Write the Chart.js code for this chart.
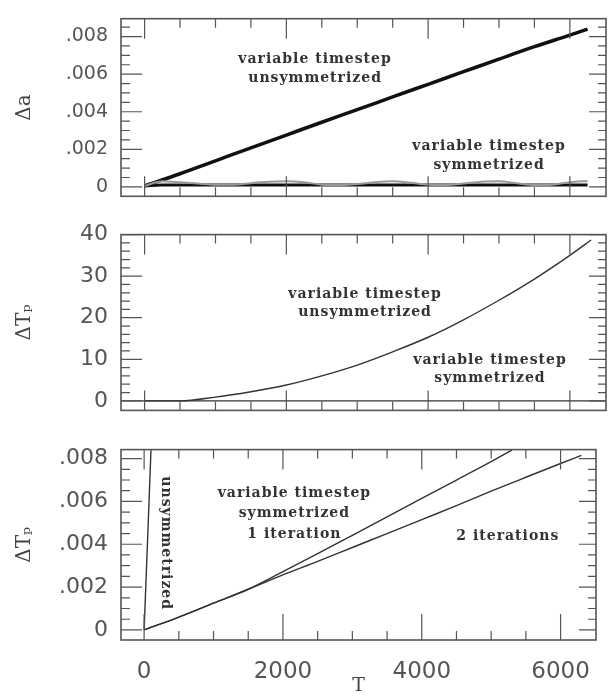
<!DOCTYPE html>
<html>
<head>
<meta charset="utf-8">
<script src="https://cdn.jsdelivr.net/npm/chart.js@4.4.1/dist/chart.umd.min.js"></script>
<style>
html, body { margin: 0; padding: 0; background: #fff; }
.panel { position: absolute; left: 0; width: 608px; }
</style>
</head>
<body>
<div class="panel" style="top:0;height:215px"><canvas id="c1"></canvas></div>
<div class="panel" style="top:215px;height:215px"><canvas id="c2"></canvas></div>
<div class="panel" style="top:430px;height:268px"><canvas id="c3"></canvas></div>
<script>
// ---------------- DATA ----------------
const xTicks = [0, 500, 1000, 1500, 2000, 2500, 3000, 3500, 4000, 4500, 5000, 5500, 6000];
const xLabels = [0, 2000, 4000, 6000];

// panel 1 : delta a
const aUnsymT = [0, 500, 1000, 1500, 2000, 2500, 3000, 3500, 4000, 4500, 5000, 5500, 6000, 6250];
const aUnsym  = [0.00005, 0.0007, 0.00139, 0.00208, 0.00276, 0.00344, 0.00411, 0.00479, 0.00546, 0.00613, 0.0068, 0.00746, 0.00808, 0.0084];
const aSymT   = [0, 250, 500, 750, 1000, 1250, 1500, 1750, 2000, 2250, 2500, 2750, 3000, 3250, 3500, 3750, 4000, 4250, 4500, 4750, 5000, 5250, 5500, 5750, 6000, 6250];
const aSym    = [0.00005, 0.0001, 0.0001, 0.0001, 0.0001, 0.0001, 0.0001, 0.0001, 0.0001, 0.0001, 0.0001, 0.0001, 0.0001, 0.0001, 0.0001, 0.0001, 0.0001, 0.0001, 0.0001, 0.0001, 0.0001, 0.0001, 0.0001, 0.0001, 0.0001, 0.0001];
const aSymFuzz = [0.00005, 0.0003, 0.00025, 0.00018, 0.00012, 0.00012, 0.0002, 0.00028, 0.0003, 0.00025, 0.00012, 0.0001, 0.00015, 0.00025, 0.0003, 0.00022, 0.00012, 0.0001, 0.00018, 0.00028, 0.0003, 0.0002, 0.0001, 0.00012, 0.00025, 0.00032];
const aTicks  = [0, 0.0005, 0.001, 0.0015, 0.002, 0.0025, 0.003, 0.0035, 0.004, 0.0045, 0.005, 0.0055, 0.006, 0.0065, 0.007, 0.0075, 0.008, 0.0085];
const aLabels = [0, 0.002, 0.004, 0.006, 0.008];

// panel 2 : delta Tp (large)
const tpUnsymT = [0, 500, 1000, 1500, 2000, 2500, 3000, 3500, 4000, 4500, 5000, 5500, 6000, 6300];
const tpUnsym  = [0, 0, 0.9, 2.2, 3.8, 6.0, 8.6, 11.8, 15.3, 19.5, 24.2, 29.3, 35.0, 38.7];
const tpSymT   = [-333, 6510];
const tpSym    = [0, 0];
const tpTicks  = [0, 2, 4, 6, 8, 10, 12, 14, 16, 18, 20, 22, 24, 26, 28, 30, 32, 34, 36, 38, 40];
const tpLabels = [0, 10, 20, 30, 40];

// panel 3 : delta Tp (small)
const unsymT  = [0, 50, 100];
const unsym   = [0, 0.0042, 0.0085];
const iter1T  = [0, 500, 1000, 1500, 2000, 2500, 3000, 3500, 4000, 4500, 5000, 5300];
const iter1   = [0, 0.0006, 0.00125, 0.0019, 0.00272, 0.00356, 0.00442, 0.00528, 0.00614, 0.007, 0.00786, 0.0084];
const iter2T  = [0, 500, 1000, 1500, 2000, 2500, 3000, 3500, 4000, 4500, 5000, 5500, 6000, 6300];
const iter2   = [0, 0.0006, 0.00125, 0.0019, 0.00257, 0.0032, 0.00385, 0.0045, 0.00515, 0.0058, 0.00648, 0.00713, 0.00777, 0.00815];
const sTicks  = [0, 0.0005, 0.001, 0.0015, 0.002, 0.0025, 0.003, 0.0035, 0.004, 0.0045, 0.005, 0.0055, 0.006, 0.0065, 0.007, 0.0075, 0.008];
const sLabels = [0, 0.002, 0.004, 0.006, 0.008];

// ---------------- HELPERS ----------------
const pts = (xs, ys) => xs.map((x, i) => ({ x: x, y: ys[i] }));
const has = (list, v) => list.some(l => Math.abs(l - v) < 1e-9);
const fmtSmall = v => v === 0 ? '0' : v.toFixed(3).slice(1);

function line(data, color, width) {
    return {
        data: data, borderColor: color, borderWidth: width, pointRadius: 0,
        cubicInterpolationMode: 'monotone'
    };
}

// frame, inward ticks on all four sides, and the text notes
const framePlugin = {
    id: 'framePlugin',
    afterDatasetsDraw(chart, args, o) {
        const ctx = chart.ctx, a = chart.chartArea;
        const x = chart.scales.x, y = chart.scales.y;
        ctx.save();
        ctx.strokeStyle = '#555';
        ctx.lineWidth = 1.6;
        ctx.strokeRect(a.left, a.top, a.right - a.left, a.bottom - a.top);
        ctx.lineWidth = 1.2;
        ctx.beginPath();
        x.ticks.forEach(t => {
            const px = x.getPixelForValue(t.value);
            const big = has(o.xMajor, t.value);
            ctx.moveTo(px, a.bottom); ctx.lineTo(px, a.bottom - (big ? o.xBig : 9));
            ctx.moveTo(px, a.top); ctx.lineTo(px, a.top + (big ? 20 : 9));
        });
        y.ticks.forEach(t => {
            const py = y.getPixelForValue(t.value);
            const big = has(o.yMajor, t.value);
            ctx.moveTo(a.left, py); ctx.lineTo(a.left + (big ? 21 : 9), py);
            ctx.moveTo(a.right, py); ctx.lineTo(a.right - (big ? 17 : 8), py);
        });
        ctx.stroke();

        ctx.fillStyle = '#333';
        ctx.font = 'bold 14px "DejaVu Serif"';
        ctx.letterSpacing = '1px';
        ctx.textAlign = 'center';
        ctx.textBaseline = 'middle';
        (o.notes || []).forEach(n => {
            const px = x.getPixelForValue(n.x), py = y.getPixelForValue(n.y);
            ctx.save();
            ctx.translate(px, py);
            if (n.rot) ctx.rotate(Math.PI / 2);
            ctx.fillText(n.text, 0, 0);
            ctx.restore();
        });
        ctx.restore();
    }
};

function makePanel(id, cfg) {
    return new Chart(document.getElementById(id), {
        type: 'line',
        data: { datasets: cfg.datasets },
        plugins: [framePlugin],
        options: {
            responsive: true,
            maintainAspectRatio: false,
            animation: false,
            layout: { padding: cfg.padding },
            plugins: {
                legend: { display: false },
                tooltip: { enabled: false },
                framePlugin: { xMajor: xLabels, yMajor: cfg.yLabels, xBig: cfg.xBig, notes: cfg.notes }
            },
            scales: {
                x: {
                    type: 'linear',
                    min: -333, max: 6510,
                    grid: { display: false, drawTicks: false },
                    border: { display: false },
                    afterBuildTicks: s => { s.ticks = xTicks.map(v => ({ value: v })); },
                    afterFit: s => { s.height = cfg.xHeight; },
                    ticks: {
                        display: cfg.showX,
                        autoSkip: false,
                        maxRotation: 0,
                        minRotation: 0,
                        padding: 18,
                        color: '#555',
                        font: { family: 'DejaVu Sans', size: 23 },
                        callback: v => has(xLabels, v) ? String(v) : ''
                    },
                    title: {
                        display: cfg.showX,
                        text: 'T',
                        color: '#444',
                        font: { family: 'DejaVu Serif', size: 19 },
                        padding: { top: 0, bottom: 1 }
                    }
                },
                y: {
                    type: 'linear',
                    min: cfg.yMin, max: cfg.yMax,
                    grid: { display: false, drawTicks: false },
                    border: { display: false },
                    afterBuildTicks: s => { s.ticks = cfg.yTicks.map(v => ({ value: v })); },
                    afterFit: s => { s.width = 121; },
                    ticks: {
                        autoSkip: false,
                        padding: 13,
                        color: '#555',
                        font: { family: 'DejaVu Sans', size: cfg.yFont, lineHeight: 0.6 },
                        callback: v => has(cfg.yLabels, v) ? cfg.fmt(v) : ''
                    },
                    title: {
                        display: true,
                        text: cfg.yTitle,
                        color: '#444',
                        font: { family: 'DejaVu Serif', size: 20 },
                        padding: { top: 13, bottom: 0 }
                    }
                }
            }
        }
    });
}

// ---------------- DRAW CHARTS ----------------
makePanel('c1', {
    padding: { top: 13, bottom: 12, left: 0, right: 2 },
    xHeight: 0, showX: false, xBig: 20,
    yMin: -0.0005, yMax: 0.00895, yTicks: aTicks, yLabels: aLabels, yFont: 19, fmt: fmtSmall,
    yTitle: 'Δa',
    datasets: [
        line(pts(aSymT, aSymFuzz), '#999', 2),
        line(pts(aSymT, aSym), '#111', 3),
        line(pts(aUnsymT, aUnsym), '#111', 3.5)
    ],
    notes: [
        { x: 2405, y: 0.00676, text: 'variable timestep' },
        { x: 2405, y: 0.00576, text: 'unsymmetrized' },
        { x: 4860, y: 0.00214, text: 'variable timestep' },
        { x: 4860, y: 0.00114, text: 'symmetrized' }
    ]
});

makePanel('c2', {
    padding: { top: 15, bottom: 8, left: 0, right: 2 },
    xHeight: 0, showX: false, xBig: 20,
    yMin: -2.3, yMax: 40, yTicks: tpTicks, yLabels: tpLabels, yFont: 22, fmt: v => String(v),
    yTitle: 'ΔTₚ',
    datasets: [
        line(pts(tpSymT, tpSym), '#333', 1.4),
        line(pts(tpUnsymT, tpUnsym), '#333', 1.4)
    ],
    notes: [
        { x: 3110, y: 25.6, text: 'variable timestep' },
        { x: 3110, y: 21.2, text: 'unsymmetrized' },
        { x: 4873, y: 9.7, text: 'variable timestep' },
        { x: 4873, y: 5.5, text: 'symmetrized' }
    ]
});

makePanel('c3', {
    padding: { top: 19, bottom: 0, left: 0, right: 2 },
    xHeight: 58, showX: true, xBig: 26,
    yMin: -0.00047, yMax: 0.00842, yTicks: sTicks, yLabels: sLabels, yFont: 22, fmt: fmtSmall,
    yTitle: 'ΔTₚ',
    datasets: [
        line(pts(unsymT, unsym), '#333', 1.4),
        line(pts(iter1T, iter1), '#333', 1.4),
        line(pts(iter2T, iter2), '#333', 1.4)
    ],
    notes: [
        { x: 2165, y: 0.00637, text: 'variable timestep' },
        { x: 2165, y: 0.00544, text: 'symmetrized' },
        { x: 2165, y: 0.00446, text: '1 iteration' },
        { x: 5240, y: 0.00437, text: '2 iterations' },
        { x: 303, y: 0.00405, text: 'unsymmetrized', rot: true }
    ]
});
</script>
</body>
</html>
